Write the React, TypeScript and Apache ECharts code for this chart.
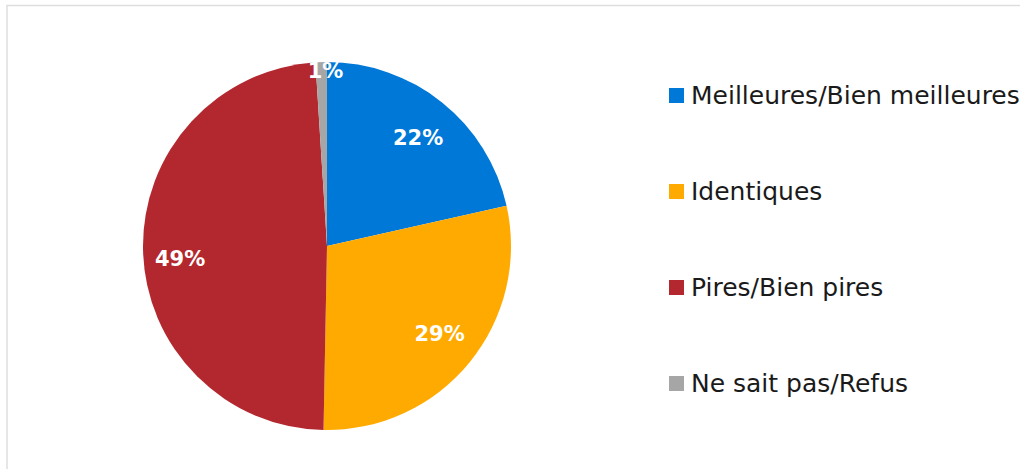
import React, { useEffect, useRef } from "react";
import * as echarts from "echarts";

const categories = [
  "Meilleures/Bien meilleures",
  "Identiques",
  "Pires/Bien pires",
  "Ne sait pas/Refus",
];
const values = [21.5, 28.8, 48.7, 1.0];
const colors = ["#0078d7", "#ffaa00", "#b3282e", "#a6a6a6"];
const labelOffsets: [number, number][] = [
  [1, 4],
  [1, -3],
  [-3, 10],
  [3, -31],
];

export default function App() {
  const ref = useRef<HTMLDivElement>(null);
  useEffect(() => {
    if (!ref.current) return;
    const chart = echarts.init(ref.current, undefined, { renderer: "svg" });
    const center = [327, 246];
    chart.setOption({
      animation: false,
      backgroundColor: "#ffffff",
      graphic: [
        {
          type: "rect",
          shape: { x: 7, y: 5.5, width: 1100, height: 600 },
          style: { fill: "none", stroke: "#dedede", lineWidth: 1.5 },
          silent: true,
        },
      ],
      legend: {
        orient: "vertical",
        left: 669,
        top: 83,
        padding: 0,
        itemWidth: 15,
        itemHeight: 15,
        itemGap: 71,
        icon: "rect",
        data: categories,
        textStyle: {
          fontFamily: "DejaVu Sans",
          fontSize: 25,
          color: "#1a1a1a",
          padding: [0, 0, 0, 2],
        },
      },
      series: [
        {
          type: "pie",
          center,
          radius: [0, 184],
          startAngle: 90,
          clockwise: true,
          silent: true,
          label: { show: false },
          labelLine: { show: false },
          itemStyle: { borderWidth: 0 },
          data: categories.map((name, i) => ({
            name,
            value: values[i],
            itemStyle: { color: colors[i] },
          })),
        },
        {
          type: "pie",
          center,
          radius: [0, 282],
          startAngle: 90,
          clockwise: true,
          silent: true,
          legendHoverLink: false,
          labelLine: { show: false },
          itemStyle: { color: "rgba(0,0,0,0)", borderWidth: 0 },
          label: {
            show: true,
            position: "inside",
            color: "#ffffff",
            fontFamily: "DejaVu Sans",
            fontWeight: "bold",
            fontSize: 21,
            formatter: (p: any) => Math.round(p.value) + "%",
          },
          data: categories.map((name, i) => ({
            name,
            value: values[i],
            label: { offset: labelOffsets[i] },
          })),
        },
      ],
    });
    return () => chart.dispose();
  }, []);
  return (
    <div
      ref={ref}
      style={{ position: "fixed", left: 0, top: 0, width: 1020, height: 469 }}
    />
  );
}
